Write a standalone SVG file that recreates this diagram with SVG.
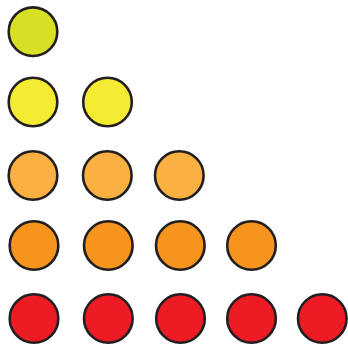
<svg xmlns="http://www.w3.org/2000/svg" width="348" height="347" viewBox="0 0 348 347">
<style>
circle{stroke:#231F20;stroke-width:2.6}
.r1{fill:#D7E024}.r2{fill:#F5EB32}.r3{fill:#FBB042}.r4{fill:#F7941E}.r5{fill:#ED1C24}
</style>
<rect width="348" height="347" fill="#fff"/>
<g id="row1"><circle class="r1" cx="33" cy="31.7" r="24.3"/></g>
<g id="row2"><circle class="r2" cx="33" cy="102" r="24.3"/><circle class="r2" cx="107.5" cy="102" r="24.3"/></g>
<g id="row3"><circle class="r3" cx="33" cy="175.5" r="24.3"/><circle class="r3" cx="107.3" cy="175.5" r="24.3"/><circle class="r3" cx="179.3" cy="175.5" r="24.3"/></g>
<g id="row4"><circle class="r4" cx="34" cy="245.5" r="24.3"/><circle class="r4" cx="108.3" cy="245.5" r="24.3"/><circle class="r4" cx="180.3" cy="245.5" r="24.3"/><circle class="r4" cx="251.5" cy="245.5" r="24.3"/></g>
<g id="row5"><circle class="r5" cx="34" cy="318.5" r="24.3"/><circle class="r5" cx="108.3" cy="318.5" r="24.3"/><circle class="r5" cx="180.5" cy="318.5" r="24.3"/><circle class="r5" cx="251.5" cy="318.5" r="24.3"/><circle class="r5" cx="322.3" cy="318.5" r="24.3"/></g>
</svg>
